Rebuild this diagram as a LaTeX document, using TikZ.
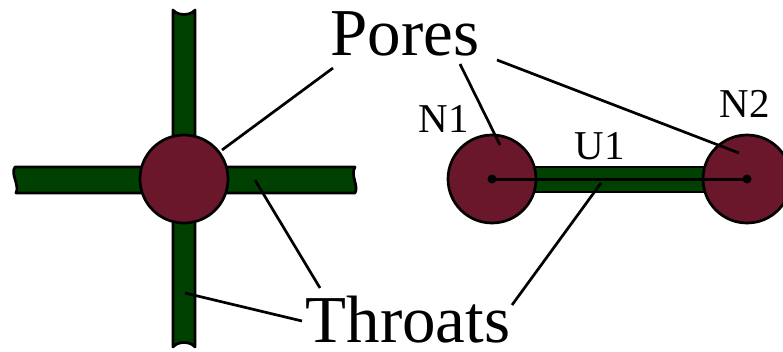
\documentclass[tikz,border=0pt]{standalone}
\usepackage{fontspec}
\setmainfont{Liberation Serif}
\definecolor{throatgreen}{RGB}{0,64,0}
\definecolor{poremaroon}{RGB}{107,23,43}
\tikzset{
  throat/.style={fill=throatgreen, draw=black, line width=2.7pt, line join=round},
  pore/.style={circle, fill=poremaroon, draw=black, line width=2.7pt,
    minimum size=88pt, inner sep=0pt},
  leader/.style={draw=black, line width=2.7pt},
  bigtext/.style={font=\fontsize{67}{67}\selectfont, inner sep=0pt},
  smalltext/.style={font=\fontsize{41}{41}\selectfont, inner sep=0pt},
  centerdot/.style={circle, fill=black, minimum size=9pt, inner sep=0pt},
}
\begin{document}
\begin{tikzpicture}[x=1pt,y=-1pt]
\useasboundingbox (0,0) rectangle (783,351);

% --- cross of four throats around one pore (broken ends) ---
\path[throat] (173,10) .. controls (178,16) and (190,16) .. (195,10)
  -- (195,347) .. controls (190,341) and (178,341) .. (173,347) -- cycle;
\path[throat] (15,167) .. controls (10,174) and (20,185) .. (16,193)
  -- (355,193) .. controls (359,186) and (350,175) .. (355,167) -- cycle;

% --- single throat between two pores ---
\path[throat] (520,167) rectangle (720,192);

% --- pores ---
\node[pore] (pc) at (184,179) {};
\node[pore] (n1) at (492,179) {};
\node[pore] (n2) at (747,179) {};

% centre line of the throat and pore centres
\draw[line width=3pt] (n1.center) -- (n2.center);
\node[centerdot] (d1) at (n1.center) {};
\node[centerdot] (d2) at (n2.center) {};

% --- labels ---
\node[bigtext, anchor=base] (pores) at (405,55) {Pores};
\node[bigtext, anchor=base] (throats) at (408,342) {Throats};
\node[smalltext, anchor=base] (ln1) at (444,132) {N1};
\node[smalltext, anchor=base] (lu1) at (600,159) {U1};
\node[smalltext, anchor=base] (ln2) at (745,117) {N2};

% --- leader lines ---
\coordinate (pa) at (333,68);
\coordinate (pb) at (460,64);
\coordinate (pd) at (497,60);
\coordinate (pa2) at (222,150);
\coordinate (pb2) at (500,145);
\coordinate (pd2) at (739,153);
\draw[leader] (pa) -- (pa2);
\draw[leader] (pb) -- (pb2);
\draw[leader] (pd) -- (pd2);

\coordinate (ta) at (320,288);
\coordinate (tb) at (302,321);
\coordinate (td) at (512,305);
\coordinate (ta2) at (255,180);
\coordinate (tb2) at (185,293);
\coordinate (td2) at (601,183);
\draw[leader] (ta) -- (ta2);
\draw[leader] (tb) -- (tb2);
\draw[leader] (td) -- (td2);
\end{tikzpicture}
\end{document}
